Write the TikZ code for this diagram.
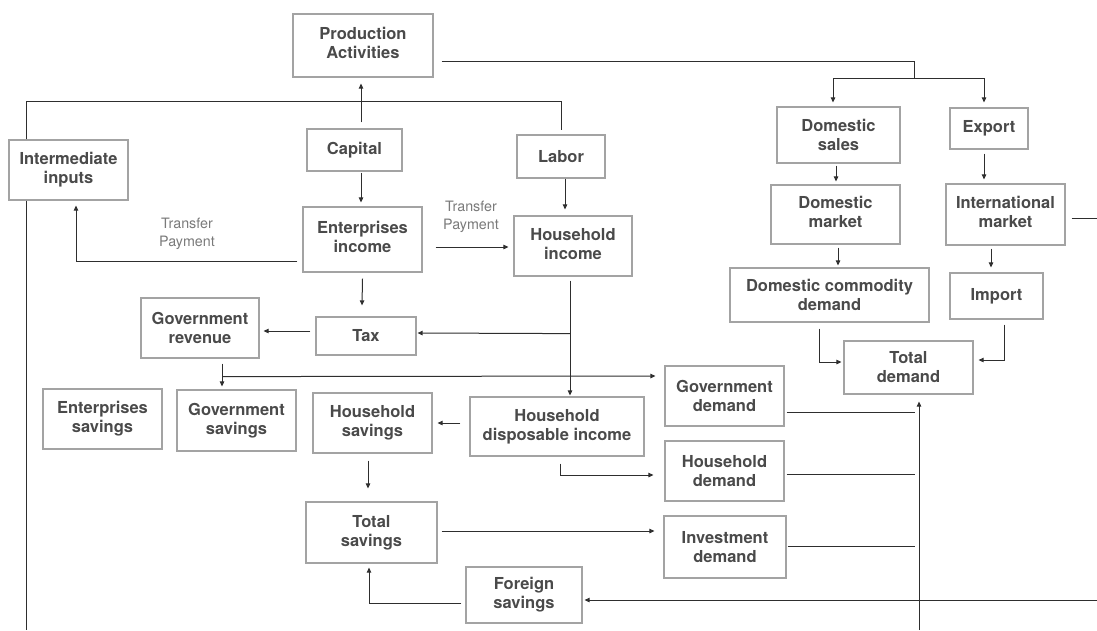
\documentclass[tikz,border=0pt]{standalone}
\usepackage{fontspec}
\setmainfont{TeX Gyre Heros}
\usetikzlibrary{arrows.meta,calc}
\definecolor{boxline}{HTML}{A3A3A3}
\definecolor{boxtext}{HTML}{4A4A4A}
\definecolor{wirecol}{HTML}{2E2E2E}
\definecolor{notetext}{HTML}{7A7A7A}
\tikzset{
  box/.style={draw=boxline, line width=1.2pt, text=boxtext, align=center, inner sep=0pt,
    font=\bfseries\fontsize{16.5}{19}\selectfont},
  wire/.style={draw=wirecol, line width=1pt},
  arr/.style={wire, -{Triangle[length=5pt,width=4.5pt]}},
  note/.style={text=notetext, align=center, inner sep=0pt,
    font=\fontsize{14.3}{18}\selectfont},
}
% two-line box text set a little above the box centre
\newcommand{\liftedtext}[2]{\raisebox{#1}{\begin{tabular}{@{}c@{}}#2\end{tabular}}}
\begin{document}
\begin{tikzpicture}[x=1pt,y=-1pt]
\useasboundingbox (0,0) rectangle (1097,630);

% ---- boxes ----
\node[box, minimum width=140pt, minimum height=63pt] (prod) at (363,45.5) {\liftedtext{3pt}{Production\\Activities}};
\node[box, minimum width=119pt, minimum height=60pt] (inter) at (68.5,170) {Intermediate\\inputs};
\node[box, minimum width=95pt, minimum height=42pt] (capital) at (354.5,150) {Capital};
\node[box, minimum width=88pt, minimum height=43pt] (labor) at (561,156.5) {Labor};
\node[box, minimum width=119pt, minimum height=65pt] (ent) at (362.5,239.5) {\liftedtext{6pt}{Enterprises\\income}};
\node[box, minimum width=118pt, minimum height=60pt] (hhinc) at (573,246) {\liftedtext{3pt}{Household\\income}};
\node[box, minimum width=100pt, minimum height=38pt] (tax) at (366,336) {Tax};
\node[box, minimum width=118pt, minimum height=60pt] (govrev) at (200,328) {Government\\revenue};
\node[box, minimum width=119pt, minimum height=60pt] (entsav) at (102.5,419) {Enterprises\\savings};
\node[box, minimum width=119pt, minimum height=61pt] (govsav) at (236.5,420.5) {Government\\savings};
\node[box, minimum width=119pt, minimum height=60pt] (hhsav) at (372.5,423) {Household\\savings};
\node[box, minimum width=174pt, minimum height=59pt] (hhdisp) at (557,426.5) {Household\\disposable income};
\node[box, minimum width=131pt, minimum height=61pt] (totsav) at (371.5,532.5) {Total\\savings};
\node[box, minimum width=116pt, minimum height=56pt] (forsav) at (524,595) {Foreign\\savings};
\node[box, minimum width=119pt, minimum height=60pt] (govdem) at (724.5,396) {Government\\demand};
\node[box, minimum width=119pt, minimum height=60pt] (hhdem) at (724.5,471) {Household\\demand};
\node[box, minimum width=122pt, minimum height=62pt] (invdem) at (725,547) {Investment\\demand};
\node[box, minimum width=123pt, minimum height=56pt] (domsales) at (838.5,135) {Domestic\\sales};
\node[box, minimum width=78pt, minimum height=41pt] (export) at (989,128.5) {Export};
\node[box, minimum width=129pt, minimum height=59pt] (dommkt) at (835.5,214.5) {\liftedtext{2pt}{Domestic\\market}};
\node[box, minimum width=119pt, minimum height=61pt] (intlmkt) at (1005.5,214.5) {\liftedtext{2pt}{International\\market}};
\node[box, minimum width=199pt, minimum height=54pt] (dcd) at (829.5,295) {Domestic commodity\\demand};
\node[box, minimum width=93pt, minimum height=46pt] (import) at (996.5,296) {Import};
\node[box, minimum width=129pt, minimum height=53pt] (totdem) at (908.5,367.5) {Total\\demand};

% ---- labels ----
\node[note] (tpleft) at (187,234) {Transfer\\Payment};
\node[note] (tpright) at (471,216.5) {Transfer\\Payment};

% ---- free ends at the picture edges ----
\coordinate (leftend) at (26,630);
\coordinate (tdbottom) at (919,630);
\coordinate (fsright) at (1097,600);
\coordinate (imright) at (1097,218);
\coordinate (split) at (914,78);

% ---- factor side ----
\draw[wire] ($(inter.north)+(-42.5,0)$) |- ($(labor.north)+(0,-33)$) -- ($(labor.north)+(0,-4)$);
\draw[wire] ($(inter.south)+(-42.5,0)$) -- (leftend);
\draw[arr] ($(capital.north)+(6.5,-6)$) -- ($(prod.south)+(-2,6)$);
\draw[arr] ($(capital.south)+(6.5,1)$) -- ($(ent.north)+(-1.5,-4)$);
\draw[arr] ($(ent.west)+(-5,21.5)$) -| ($(inter.south)+(7.5,5)$);
\draw[arr] ($(ent.east)+(13,7.5)$) -- ($(hhinc.west)+(-5,1)$);
\draw[arr] ($(labor.south)+(4,0)$) -- ($(hhinc.north)+(-8,-6)$);
\draw[arr] ($(ent.south)+(0,6)$) -- ($(tax.north)+(-4,-11)$);
\draw[arr] ($(tax.west)+(-5,-5)$) -- ($(govrev.east)+(4,3)$);
\draw[arr] ($(hhinc.south)+(-3,4)$) -- ($(hhdisp.north)+(13,-1)$);
\draw[arr] ($(hhinc.south)+(-3,57)$) -- ($(tax.east)+(1,-3)$);
\draw[arr] ($(govrev.south)+(22,5)$) -- ($(govsav.north)+(-14.5,-3)$);
\draw[arr] ($(govrev.south)+(22,18)$) -- ($(govdem.west)+(-9,-20)$);
\draw[arr] ($(hhdisp.west)+(-9,-3.5)$) -- ($(hhsav.east)+(5,0)$);
\draw[arr] ($(hhsav.south)+(-4.5,7)$) -- ($(totsav.north)+(-3.5,-13)$);
\draw[arr] ($(totsav.east)+(4,-1.5)$) -- ($(invdem.west)+(-9,-16)$);
\draw[arr] ($(hhdisp.south)+(3,7)$) |- ($(hhdem.west)+(-11,4)$);
\draw[arr] ($(forsav.west)+(-4,8)$) -| ($(totsav.south)+(-2.5,4)$);

% ---- demand side ----
\draw[wire] ($(govdem.east)+(2,16)$) -- ($(govdem.east)+(130,16)$);
\draw[wire] ($(hhdem.east)+(2,3)$) -- ($(hhdem.east)+(130,3)$);
\draw[wire] ($(invdem.east)+(1,-1)$) -- ($(invdem.east)+(128,-1)$);
\draw[arr] (tdbottom) -- ($(totdem.south)+(10.5,7)$);
\draw[arr] (fsright) -- ($(forsav.east)+(2,5)$);

% ---- commodity side ----
\draw[wire] ($(prod.east)+(8,15.5)$) -| (split);
\draw[arr] (split) -| ($(domsales.north)+(-5.5,-4)$);
\draw[arr] (split) -| ($(export.north)+(-5,-5)$);
\draw[arr] ($(domsales.south)+(-2.5,2)$) -- ($(dommkt.north)+(0.5,-3)$);
\draw[arr] ($(export.south)+(-5,4)$) -- ($(intlmkt.north)+(-21.5,-4)$);
\draw[arr] ($(dommkt.south)+(2.5,3)$) -- ($(dcd.north)+(8.5,-2)$);
\draw[arr] ($(intlmkt.south)+(-14.5,3)$) -- ($(import.north)+(-5.5,-5)$);
\draw[arr] ($(dcd.south)+(-10.5,6)$) |- ($(totdem.west)+(-2,-5.5)$);
\draw[arr] ($(import.south)+(7.5,5)$) |- ($(totdem.east)+(5,-7.5)$);
\draw[wire] ($(intlmkt.east)+(6,3.5)$) -- (imright);
\end{tikzpicture}
\end{document}
